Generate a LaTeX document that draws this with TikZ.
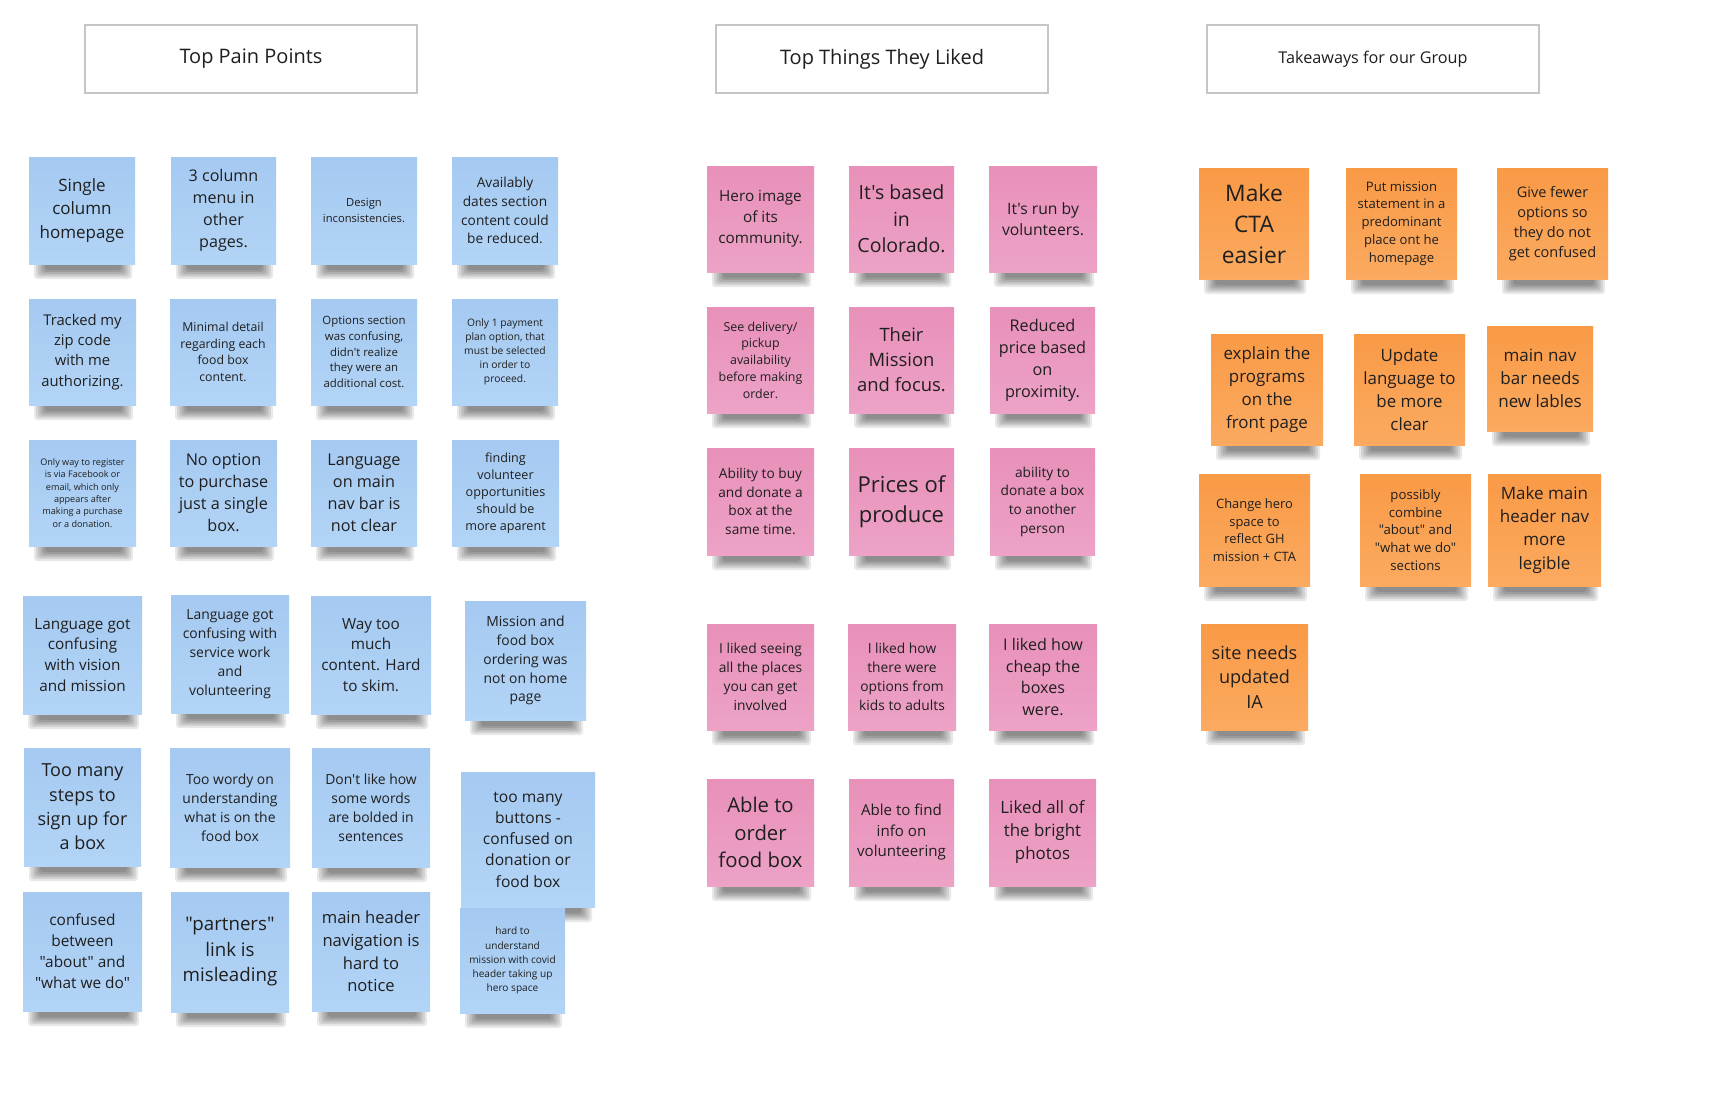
\documentclass[tikz,border=0pt]{standalone}
\usepackage{fontspec}
\setmainfont{Open Sans}
\newfontfamily\osans{Open Sans}
\definecolor{blueT}{HTML}{A5C9F1}
\definecolor{blueB}{HTML}{B2D4F6}
\definecolor{pinkT}{HTML}{E890B9}
\definecolor{pinkB}{HTML}{EDA2C6}
\definecolor{orangeT}{HTML}{F99A46}
\definecolor{orangeB}{HTML}{FBAA60}
\definecolor{inkc}{HTML}{1F1F1F}
\definecolor{hdrline}{HTML}{C6C6C6}
\tikzset{
  notebase/.style={inner sep=0pt, align=center, text=inkc},
  bluenote/.style={notebase, top color=blueT, bottom color=blueB},
  pinknote/.style={notebase, top color=pinkT, bottom color=pinkB},
  orangenote/.style={notebase, top color=orangeT, bottom color=orangeB},
  header/.style={draw=hdrline, line width=1.5pt, fill=white, minimum width=332pt, minimum height=68pt, text=inkc, inner sep=0pt},
  softshadow/.style={fill=black, opacity=0.09, rounded corners=3pt}
}
% name, cx, cy, w, h, style, fontsize, baselineskip, text
\newcommand\sticky[9]{%
  \foreach \i in {0,...,5}{%
    \fill[softshadow] ({#2-#4/2+5+2.2*\i},{#3+#5/2-3}) rectangle ({#2+#4/2-3-2.2*\i},{#3+#5/2+15-1.8*\i});
  }
  \node[#6, minimum width=#4, minimum height=#5, font={\osans\fontsize{#7}{#8}\selectfont}] (#1) at (#2,#3) {#9};
}
\begin{document}
\begin{tikzpicture}[x=1pt, y=-1pt]
\fill[white] (0,0) rectangle (1710,1108);
\useasboundingbox (0,0) rectangle (1710,1108);

% headers
\node[header, font={\osans\fontsize{20}{24}\selectfont}] (hpain) at (251,59) {Top Pain Points};
\node[header, font={\osans\fontsize{20}{24}\selectfont}] (hliked) at (882,59) {Top Things They Liked};
\node[header, font={\osans\fontsize{16.2}{20}\selectfont}] (htake) at (1373,59) {Takeaways for our Group};

% ---------- blue: pain points ----------
\sticky{b11}{82}{210.5}{106}{107}{bluenote}{17}{23.2}{Single\\column\\homepage}
\sticky{b12}{223.5}{210.5}{105}{107}{bluenote}{16.1}{21.9}{3 column\\menu in\\other\\pages.}
\sticky{b13}{364}{210.5}{106}{107}{bluenote}{11.2}{15.7}{Design\\inconsistencies.}
\sticky{b14}{505}{210.5}{106}{107}{bluenote}{13.7}{18.8}{Availably\\dates section\\content could\\be reduced.}

\sticky{b21}{82.5}{352}{107}{106}{bluenote}{14.8}{20.2}{Tracked my\\zip code\\with me\\authorizing.}
\sticky{b22}{223}{352}{106}{106}{bluenote}{12.3}{16.8}{Minimal detail\\regarding each\\food box\\content.}
\sticky{b23}{364}{352}{106}{106}{bluenote}{11.4}{15.7}{Options section\\was confusing,\\didn't realize\\they were an\\additional cost.}
\sticky{b24}{505}{352}{106}{106}{bluenote}{10.3}{14.1}{Only 1 payment\\plan option, that\\must be selected\\in order to\\proceed.}

\sticky{b31}{82.5}{493}{107}{106}{bluenote}{9.1}{12.4}{Only way to register\\is via Facebook or\\email, which only\\appears after\\making a purchase\\or a donation.}
\sticky{b32}{223.5}{493}{107}{106}{bluenote}{16.2}{22}{No option\\to purchase\\just a single\\box.}
\sticky{b33}{364}{493}{106}{106}{bluenote}{16.2}{22}{Language\\on main\\nav bar is\\not clear}
\sticky{b34}{505.5}{493}{107}{106}{bluenote}{12.6}{17.1}{finding\\volunteer\\opportunities\\should be\\more aparent}

\sticky{b41}{82.5}{655}{119}{118}{bluenote}{15.3}{20.8}{Language got\\confusing\\with vision\\and mission}
\sticky{b42}{230}{654}{118}{118}{bluenote}{13.9}{18.9}{Language got\\confusing with\\service work\\and\\volunteering}
\sticky{b43}{371}{655}{120}{118}{bluenote}{15.3}{20.8}{Way too\\much\\content. Hard\\to skim.}
\sticky{b44}{525.5}{660.5}{121}{119}{bluenote}{13.9}{18.9}{Mission and\\food box\\ordering was\\not on home\\page}

\sticky{b51}{82.5}{807}{117}{118}{bluenote}{18}{24.4}{Too many\\steps to\\sign up for\\a box}
\sticky{b52}{230}{807.5}{120}{119}{bluenote}{13.9}{18.9}{Too wordy on\\understanding\\what is on the\\food box}
\sticky{b53}{371}{807.5}{118}{119}{bluenote}{13.9}{18.9}{Don't like how\\some words\\are bolded in\\sentences}
\sticky{b54}{528}{839.5}{134}{135}{bluenote}{15.6}{21.25}{too many\\buttons -\\confused on\\donation or\\food box}

\sticky{b61}{82.5}{951.5}{119}{119}{bluenote}{15.4}{21}{confused\\between\\"about" and\\"what we do"}
\sticky{b62}{230}{952}{118}{120}{bluenote}{18.7}{25.5}{"partners"\\link is\\misleading}
\sticky{b63}{371}{951.5}{118}{119}{bluenote}{16.6}{22.6}{main header\\navigation is\\hard to\\notice}
\sticky{b64}{512.5}{960.5}{105}{105}{bluenote}{10.1}{14.1}{hard to\\understand\\mission with covid\\header taking up\\hero space}

% ---------- pink: liked ----------
\sticky{p11}{760.5}{219}{107}{106}{pinknote}{15.3}{20.8}{Hero image\\of its\\community.}
\sticky{p12}{901.5}{219}{105}{106}{pinknote}{19.5}{26.5}{It's based\\in\\Colorado.}
\sticky{p13}{1043}{219}{108}{106}{pinknote}{15.7}{21.3}{It's run by\\volunteers.}

\sticky{p21}{760.5}{360}{107}{106}{pinknote}{12.4}{16.8}{See delivery/\\pickup\\availability\\before making\\order.}
\sticky{p22}{901.5}{360}{105}{106}{pinknote}{18.4}{25}{Their\\Mission\\and focus.}
\sticky{p23}{1042.5}{360}{105}{106}{pinknote}{16.2}{22}{Reduced\\price based\\on\\proximity.}

\sticky{p31}{760.5}{501.5}{107}{107}{pinknote}{13.7}{18.7}{Ability to buy\\and donate a\\box at the\\same time.}
\sticky{p32}{901.5}{501.5}{105}{107}{pinknote}{22}{30}{Prices of\\produce}
\sticky{p33}{1042.5}{501.5}{105}{107}{pinknote}{13.7}{18.7}{ability to\\donate a box\\to another\\person}

\sticky{p41}{760.5}{677}{107}{106}{pinknote}{13.8}{18.8}{I liked seeing\\all the places\\you can get\\involved}
\sticky{p42}{902}{677}{108}{106}{pinknote}{13.8}{18.8}{I liked how\\there were\\options from\\kids to adults}
\sticky{p43}{1043}{677}{108}{106}{pinknote}{16.1}{21.9}{I liked how\\cheap the\\boxes\\were.}

\sticky{p51}{760.5}{832.5}{107}{107}{pinknote}{20.3}{27.7}{Able to\\order\\food box}
\sticky{p52}{901.5}{832.5}{105}{107}{pinknote}{15.1}{20.5}{Able to find\\info on\\volunteering}
\sticky{p53}{1042.5}{832.5}{107}{107}{pinknote}{16.9}{23}{Liked all of\\the bright\\photos}

% ---------- orange: takeaways ----------
\sticky{o11}{1254}{223.5}{110}{111}{orangenote}{22.8}{31}{Make\\CTA\\easier}
\sticky{o12}{1401.5}{223.5}{111}{111}{orangenote}{13.1}{17.8}{Put mission\\statement in a\\predominant\\place ont he\\homepage}
\sticky{o13}{1552.5}{223.5}{111}{111}{orangenote}{14.5}{19.8}{Give fewer\\options so\\they do not\\get confused}

\sticky{o21}{1267}{389.5}{112}{111}{orangenote}{16.9}{23}{explain the\\programs\\on the\\front page}
\sticky{o22}{1409.5}{389.5}{111}{111}{orangenote}{16.9}{23}{Update\\language to\\be more\\clear}
\sticky{o23}{1540}{378.5}{106}{105}{orangenote}{17}{23.2}{main nav\\bar needs\\new lables}

\sticky{o31}{1254.5}{530}{111}{112}{orangenote}{12.9}{17.6}{Change hero\\space to\\reflect GH\\mission + CTA}
\sticky{o32}{1415.5}{530}{111}{112}{orangenote}{13.2}{17.9}{possibly\\combine\\"about" and\\"what we do"\\sections}
\sticky{o33}{1544.5}{530}{113}{112}{orangenote}{17}{23.1}{Make main\\header nav\\more\\legible}

\sticky{o41}{1254.5}{677}{107}{106}{orangenote}{18.1}{24.7}{site needs\\updated\\IA}
\end{tikzpicture}
\end{document}
